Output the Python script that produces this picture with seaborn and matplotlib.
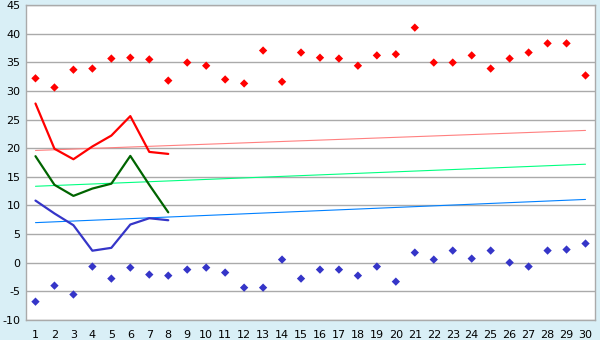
import matplotlib
matplotlib.use("Agg")
import matplotlib.pyplot as plt
import seaborn as sns
import pandas as pd

# ---- data ----
days = list(range(1, 31))
high_points = [32.2, 30.6, 33.7, 33.9, 35.65, 35.8, 35.5, 31.8, 34.95, 34.4,
               32.0, 31.3, 37.05, 31.6, 36.7, 35.8, 35.65, 34.4, 36.2, 36.4,
               41.05, 34.95, 34.95, 36.2, 33.9, 35.65, 36.7, 38.3, 38.3, 32.7]
low_points = [-6.8, -4.0, -5.55, -0.67, -2.77, -0.85, -2.07, -2.25, -1.2, -0.85,
              -1.72, -4.35, -4.35, 0.55, -2.77, -1.2, -1.2, -2.25, -0.67, -3.3,
              1.77, 0.55, 2.12, 0.72, 2.12, 0.03, -0.67, 2.12, 2.3, 3.35]
line_days = list(range(1, 9))
red_line = [27.8, 19.9, 18.07, 20.3, 22.2, 25.6, 19.35, 19.0]
green_line = [18.6, 13.6, 11.67, 12.95, 13.8, 18.65, 13.6, 8.8]
blue_line = [10.85, 8.6, 6.55, 2.1, 2.6, 6.67, 7.77, 7.42]
trend_days = [1, 30]
trend_red = [19.6, 23.1]
trend_green = [13.35, 17.2]
trend_blue = [7.0, 11.05]
y_ticks = list(range(-10, 50, 5))

# ---- figure ----
sns.set_theme(style="white")
plt.rcParams["font.family"] = ["DejaVu Sans"]

bg = "#D9EFF6"
fig = plt.figure(figsize=(6, 3.4), dpi=100, facecolor=bg)
ax = fig.add_axes([26 / 600, 20 / 340, (595 - 26) / 600, (320 - 5) / 340])
ax.set_facecolor("white")

# trend lines
sns.lineplot(x=trend_days, y=trend_red, color="#FF8080", linewidth=0.8, ax=ax)
sns.lineplot(x=trend_days, y=trend_green, color="#00FF80", linewidth=0.8, ax=ax)
sns.lineplot(x=trend_days, y=trend_blue, color="#0080FF", linewidth=0.8, ax=ax)

# main lines
sns.lineplot(x=line_days, y=red_line, color="#FF0000", linewidth=1.6, ax=ax)
sns.lineplot(x=line_days, y=green_line, color="#006400", linewidth=1.6, ax=ax)
sns.lineplot(x=line_days, y=blue_line, color="#3535C8", linewidth=1.6, ax=ax)

# point series
sns.scatterplot(x=days, y=high_points, color="#FF0000", marker="D", s=18,
                edgecolor="none", ax=ax)
sns.scatterplot(x=days, y=low_points, color="#3535C8", marker="D", s=18,
                edgecolor="none", ax=ax)

ax.set_xlim(0.5, 30.5)
ax.set_ylim(-10, 45)
ax.set_xticks(days)
ax.set_yticks(y_ticks)
ax.set_xticklabels([str(d) for d in days], fontsize=8)
ax.set_yticklabels([str(v) for v in y_ticks], fontsize=8)
ax.yaxis.grid(True, color="#AAAAAA", linewidth=1)
ax.xaxis.grid(False)
ax.set_axisbelow(True)
for s in ax.spines.values():
    s.set_color("#AAAAAA")
    s.set_linewidth(1)
    s.set_visible(True)
ax.tick_params(axis="x", length=5, width=1, color="black", pad=2, labelcolor="black")
ax.tick_params(axis="y", length=3, width=1, color="black", pad=1, labelcolor="black")
ax.set_xlabel("")
ax.set_ylabel("")

fig.savefig("out.png", dpi=100, facecolor=bg)
